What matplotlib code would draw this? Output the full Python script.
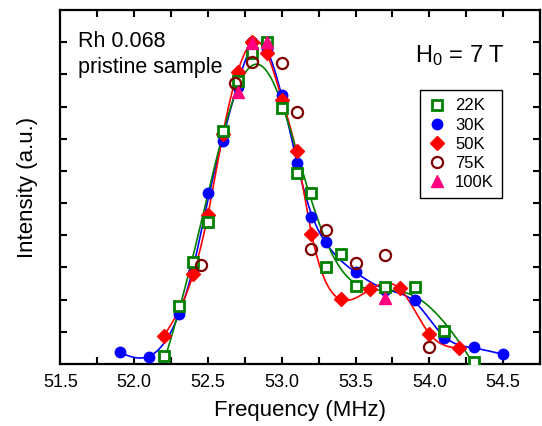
import numpy as np
import matplotlib
matplotlib.use('Agg')
import matplotlib.pyplot as plt
from matplotlib.ticker import FormatStrFormatter, MultipleLocator

plt.rcParams['font.family'] = ['Liberation Sans', 'DejaVu Sans']
plt.rcParams['mathtext.fontset'] = 'custom'
plt.rcParams['mathtext.rm'] = 'Liberation Sans'
plt.rcParams['mathtext.it'] = 'Liberation Sans'

# data (frequency in MHz, normalised intensity)
f22 = [52.2, 52.3, 52.4, 52.5, 52.6, 52.7, 52.8, 52.9, 53.0, 53.1, 53.2, 53.3,
       53.4, 53.5, 53.7, 53.9, 54.1, 54.3]
i22 = [0.025, 0.180, 0.317, 0.441, 0.724, 0.879, 0.966, 1.0, 0.795, 0.593,
       0.531, 0.301, 0.342, 0.242, 0.239, 0.239, 0.102, 0.006]
f30 = [51.9, 52.1, 52.3, 52.4, 52.5, 52.6, 52.7, 52.8, 52.9, 53.0, 53.1, 53.2,
       53.3, 53.5, 53.7, 53.9, 54.1, 54.3, 54.5]
i30 = [0.038, 0.023, 0.154, 0.283, 0.530, 0.694, 0.86, 1.0, 0.98, 0.835, 0.625,
       0.457, 0.380, 0.287, 0.230, 0.200, 0.080, 0.052, 0.030]
f50 = [52.2, 52.4, 52.5, 52.6, 52.7, 52.8, 52.9, 53.0, 53.1, 53.2, 53.4, 53.6,
       53.8, 54.0, 54.2]
i50 = [0.087, 0.279, 0.463, 0.716, 0.906, 1.0, 0.965, 0.82, 0.662, 0.403,
       0.201, 0.232, 0.235, 0.093, 0.049]
f75 = [52.45, 52.68, 52.8, 53.0, 53.1, 53.2, 53.3, 53.5, 53.7, 54.0]
i75 = [0.309, 0.872, 0.937, 0.936, 0.783, 0.356, 0.417, 0.315, 0.339, 0.052]
f100 = [52.7, 52.8, 52.9, 53.7]
i100 = [0.846, 0.996, 1.0, 0.204]


def smooth(f, y, lam, order=2, step=0.005):
    # penalised (Whittaker) smoothing spline through the points
    f = np.asarray(f)
    y = np.asarray(y)
    xs = np.arange(f.min(), f.max() + step / 2, step)
    n = len(xs)
    idx = np.round((f - f.min()) / step).astype(int)
    w = np.zeros(n)
    b = np.zeros(n)
    w[idx] = 1
    b[idx] = y
    D = np.diff(np.eye(n), order, axis=0)
    z = np.linalg.solve(np.diag(w) + lam * D.T @ D, b)
    return xs, z


fig = plt.figure(figsize=(5.42, 4.26), dpi=100)
ax = fig.add_axes([0.1116, 0.1455, 0.8847, 0.831])

green = '#008000'
blue = '#0000ff'
red = '#ff0000'
dred = '#800000'
pink = '#ff0080'

for f, y, c, lam, k in [(f30, i30, blue, 800, 2), (f50, i50, red, 120, 2),
                        (f22, i22, green, 1.2e7, 3)]:
    xs, z = smooth(f, y, lam, k)
    ax.plot(xs, z, color=c, lw=1.2, zorder=2)

h30, = ax.plot(f30, i30, 'o', color=blue, ms=7.5, mec=blue, zorder=3, label='30K')
h50, = ax.plot(f50, i50, 'D', color=red, ms=7.5, mec=red, zorder=4, label='50K')
h22, = ax.plot(f22, i22, 's', mfc='white', mec=green, mew=2, ms=7, zorder=5, label='22K')
h75, = ax.plot(f75, i75, 'o', mfc='none', mec=dred, mew=1.6, ms=8, zorder=6, label='75K')
h100, = ax.plot(f100, i100, '^', color=pink, mec=pink, ms=8, zorder=7, label='100K')

ax.set_xlim(51.5, 54.75)
ax.set_ylim(0, 1.1)
ax.xaxis.set_major_locator(MultipleLocator(0.5))
ax.xaxis.set_minor_locator(MultipleLocator(0.25))
ax.xaxis.set_major_formatter(FormatStrFormatter('%.1f'))
ax.set_yticks(np.arange(0.1, 1.01, 0.1))
ax.set_yticklabels([])
ax.tick_params(which='both', direction='in', top=True, right=True,
               length=5, width=1.5, labelsize=13, pad=7)
for s in ax.spines.values():
    s.set_linewidth(1.6)

ax.set_xlabel('Frequency (MHz)', fontsize=16, labelpad=7)
ax.set_ylabel('Intensity (a.u.)', fontsize=16, labelpad=9)

ax.text(0.036, 0.8955, 'Rh 0.068', transform=ax.transAxes, fontsize=15.5)
ax.text(0.036, 0.822, 'pristine sample', transform=ax.transAxes, fontsize=15.5)
ax.text(0.739, 0.853, r'H$_0$ = 7 T', transform=ax.transAxes, fontsize=17)

leg = ax.legend([h22, h30, h50, h75, h100], ['22K', '30K', '50K', '75K', '100K'],
                loc='upper left', bbox_to_anchor=(0.75, 0.774), fontsize=12,
                frameon=True, fancybox=False, edgecolor='black', framealpha=1,
                handlelength=1.0, handletextpad=0.6, borderpad=0.5,
                labelspacing=0.25, borderaxespad=0)
leg.get_frame().set_linewidth(1.0)

fig.savefig('out.png', dpi=100)
